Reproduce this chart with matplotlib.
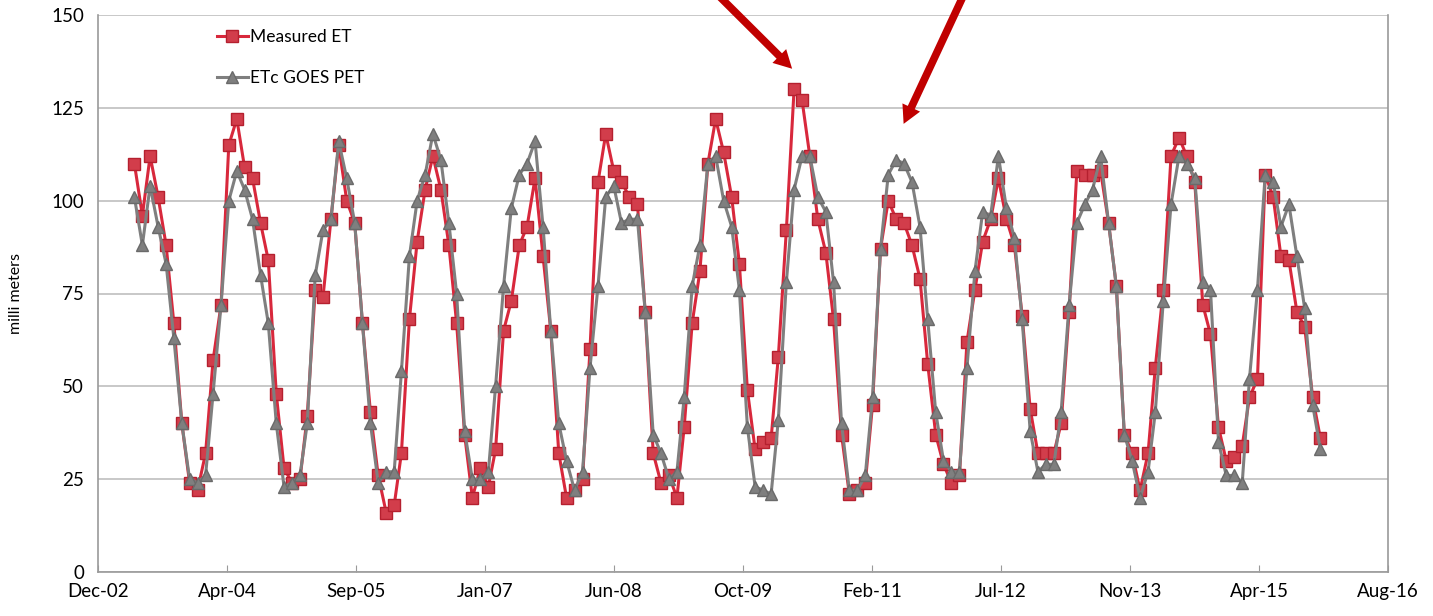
import datetime as dt

import matplotlib
matplotlib.use("Agg")
import matplotlib.pyplot as plt
import matplotlib.dates as mdates
import pandas as pd

# monthly values, May 2003 .. Dec 2015
start_month = "2003-05-01"

measured_et = [
    110, 96, 112, 101, 88, 67, 40, 24, 22, 32, 57, 72,
    115, 122, 109, 106, 94, 84, 48, 28, 24, 25, 42, 76,
    74, 95, 115, 100, 94, 67, 43, 26, 16, 18, 32, 68,
    89, 103, 112, 103, 88, 67, 37, 20, 28, 23, 33, 65,
    73, 88, 93, 106, 85, 65, 32, 20, 22, 25, 60, 105,
    118, 108, 105, 101, 99, 70, 32, 24, 26, 20, 39, 67,
    81, 110, 122, 113, 101, 83, 49, 33, 35, 36, 58, 92,
    130, 127, 112, 95, 86, 68, 37, 21, 22, 24, 45, 87,
    100, 95, 94, 88, 79, 56, 37, 29, 24, 26, 62, 76,
    89, 95, 106, 95, 88, 69, 44, 32, 32, 32, 40, 70,
    108, 107, 107, 108, 94, 77, 37, 32, 22, 32, 55, 76,
    112, 117, 112, 105, 72, 64, 39, 30, 31, 34, 47, 52,
    107, 101, 85, 84, 70, 66, 47, 36,
]

goes_pet = [
    101, 88, 104, 93, 83, 63, 40, 25, 24, 26, 48, 72,
    100, 108, 103, 95, 80, 67, 40, 23, 24, 26, 40, 80,
    92, 95, 116, 106, 94, 67, 40, 24, 27, 27, 54, 85,
    100, 107, 118, 111, 94, 75, 38, 25, 25, 27, 50, 77,
    98, 107, 110, 116, 93, 65, 40, 30, 22, 27, 55, 77,
    101, 104, 94, 95, 95, 70, 37, 32, 25, 27, 47, 77,
    88, 110, 112, 100, 93, 76, 39, 23, 22, 21, 41, 78,
    103, 112, 112, 101, 97, 78, 40, 22, 22, 26, 47, 87,
    107, 111, 110, 105, 93, 68, 43, 30, 27, 27, 55, 81,
    97, 96, 112, 98, 90, 68, 38, 27, 29, 29, 43, 72,
    94, 99, 103, 112, 94, 77, 37, 30, 20, 27, 43, 73,
    99, 112, 110, 106, 78, 76, 35, 26, 26, 24, 52, 76,
    107, 105, 93, 99, 85, 71, 45, 33,
]

series_labels = ["Measured ET", "ETc GOES PET"]
y_ticks = [0, 25, 50, 75, 100, 125, 150]

# Excel-style date axis: a tick every 500 days
axis_start = dt.date(2002, 12, 11)
n_ticks = 11
tick_step_days = 500

dates = pd.date_range(start_month, periods=len(measured_et), freq="MS")

plt.rcParams["font.family"] = ["Lato", "DejaVu Sans"]

fig = plt.figure(figsize=(14.33, 6.16), dpi=100)
ax = fig.add_axes([98 / 1433, 1 - 572 / 616, 1290 / 1433, 557 / 616])

red = "#d8283c"
red_edge = "#b5202f"
grey = "#7f7f7f"
grey_edge = "#6a6a6a"

ax.plot(dates, measured_et, color=red, lw=2.2, marker="s", ms=9,
        mfc="#d23d4b", mec=red_edge, mew=1, label=series_labels[0], zorder=3)
ax.plot(dates, goes_pet, color=grey, lw=2.2, marker="^", ms=9,
        mfc=grey, mec=grey_edge, mew=1, label=series_labels[1], zorder=4)

ticks = [axis_start + dt.timedelta(days=tick_step_days * i) for i in range(n_ticks)]
ax.set_xlim(ticks[0], ticks[-1])
ax.set_xticks(ticks)
ax.xaxis.set_major_formatter(mdates.DateFormatter("%b-%y"))
ax.set_ylim(0, 150)
ax.set_yticks(y_ticks)

ax.grid(axis="y", color="#bfbfbf", lw=1.2)
ax.set_axisbelow(True)
ax.spines["top"].set_visible(False)
for side in ["left", "bottom", "right"]:
    ax.spines[side].set_color("#9a9a9a")
    ax.spines[side].set_linewidth(1.2)

ax.tick_params(axis="x", direction="in", length=5, color="#9a9a9a",
               labelsize=13.5, pad=8)
ax.tick_params(axis="y", length=0, labelsize=13.5, pad=10)
ax.set_ylabel("milli meters", fontsize=11.5, labelpad=20)

ax.legend(loc="upper left", bbox_to_anchor=(0.08, 1.003), frameon=False,
          fontsize=12.5, handlelength=1.8, handletextpad=0.1, labelspacing=1.45)

# two arrows coming in from above the plot
arrow_kw = dict(arrowstyle="simple,head_length=1.3,head_width=1.4,tail_width=0.55",
                color="#c00000", lw=0)
ax.annotate("", xy=(dt.date(2010, 5, 1), 135), xytext=(713, 626),
            textcoords="figure pixels", arrowprops=arrow_kw,
            annotation_clip=False)
ax.annotate("", xy=(dt.date(2011, 6, 25), 120), xytext=(966, 626),
            textcoords="figure pixels", arrowprops=arrow_kw,
            annotation_clip=False)

fig.savefig("out.png", dpi=100)
